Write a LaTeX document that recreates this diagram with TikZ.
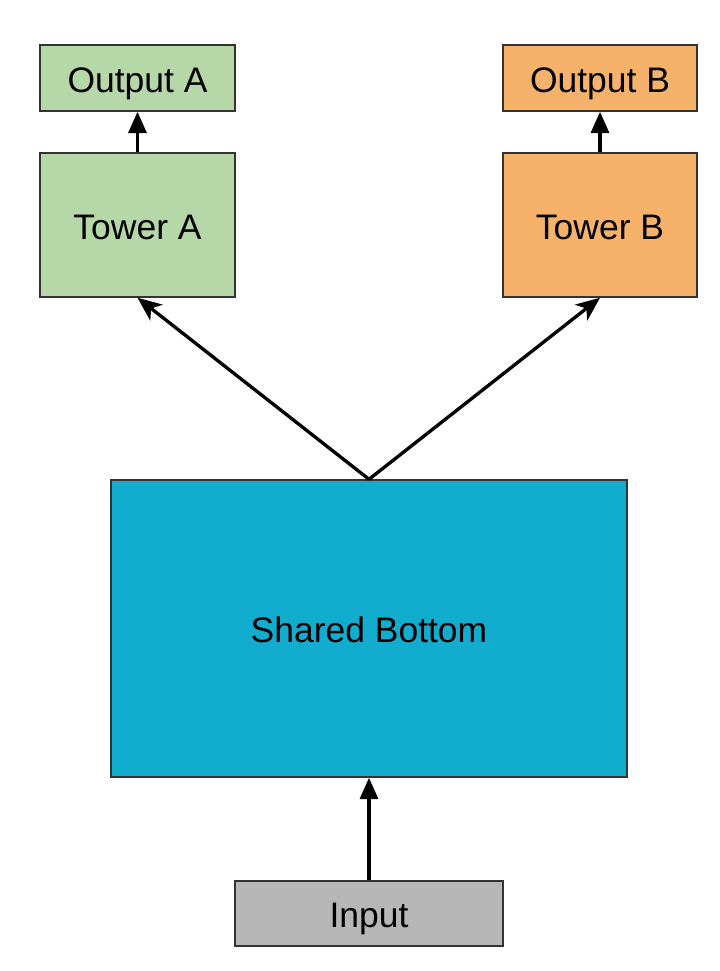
\documentclass[tikz,border=0pt]{standalone}
\usepackage{fontspec}
\setmainfont{Liberation Sans}
\usetikzlibrary{arrows.meta}
\definecolor{boxgreen}{HTML}{B6D7A8}
\definecolor{boxorange}{HTML}{F6B26B}
\definecolor{boxblue}{HTML}{12ADCE}
\definecolor{boxgray}{HTML}{B7B7B7}
\definecolor{edge}{HTML}{333333}
\tikzset{
  blk/.style={draw=edge, line width=1.1pt, rectangle, inner sep=0pt,
    font=\fontsize{26.6}{32}\selectfont, text=black, text height=21pt, text depth=0pt},
  conn/.style={line width=2.5pt, black},
  vtip/.style={-{Triangle[length=16pt,width=13.5pt]}},
  dtip/.style={-{Stealth[length=18pt,width=15pt,inset=5pt]}},
}
\begin{document}
\begin{tikzpicture}[x=0.75pt,y=-0.75pt]
\useasboundingbox[fill=white] (0,0) rectangle (719,971);
\node[blk, fill=boxgreen, minimum width=195*0.75pt, minimum height=66*0.75pt] (outA) at (137.5,78) {Output A};
\node[blk, fill=boxgreen, minimum width=195*0.75pt, minimum height=144*0.75pt] (towA) at (137.5,225) {Tower A};
\node[blk, fill=boxorange, minimum width=194*0.75pt, minimum height=66*0.75pt] (outB) at (600,78) {Output B};
\node[blk, fill=boxorange, minimum width=194*0.75pt, minimum height=144*0.75pt] (towB) at (600,225) {Tower B};
\node[blk, fill=boxblue, minimum width=516*0.75pt, minimum height=297*0.75pt] (shared) at (369,628.5) {Shared Bottom};
\node[blk, fill=boxgray, minimum width=268*0.75pt, minimum height=65*0.75pt] (input) at (369,913.5) {Input};
\draw[conn, vtip] (towA.north) -- (outA.south);
\draw[conn, vtip] (towB.north) -- (outB.south);
\draw[conn, vtip] (input.north) -- (shared.south);
\draw[conn, dtip] (shared.north) -- (towA.south);
\draw[conn, dtip] (shared.north) -- (towB.south);
\end{tikzpicture}
\end{document}
